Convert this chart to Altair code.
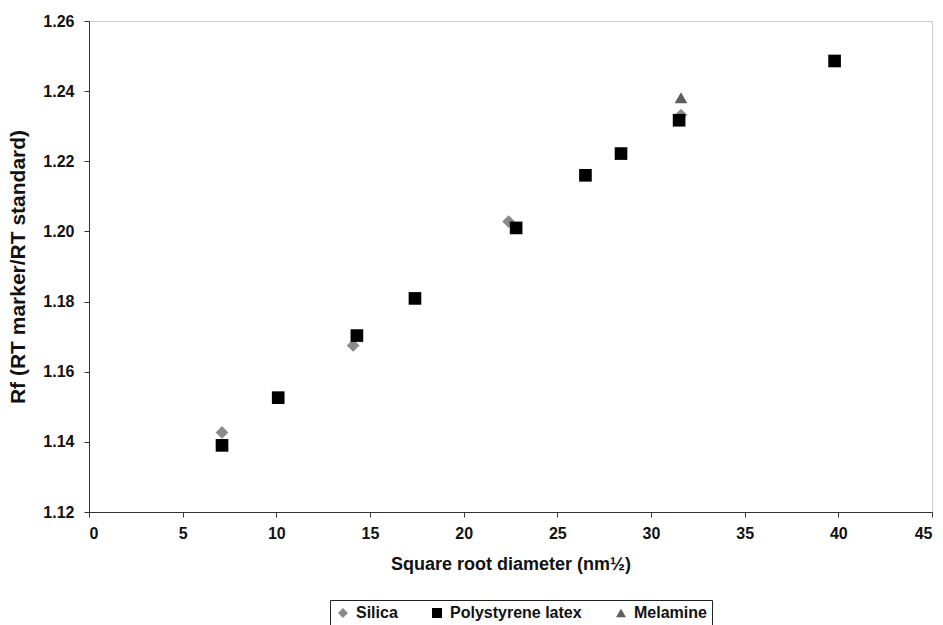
import altair as alt
import pandas as pd

series_names = ["Silica", "Polystyrene latex", "Melamine"]
series_colors = ["#8a8a8a", "#000000", "#5e5e5e"]
series_shapes = ["diamond", "square", "triangle-up"]

silica_x = [7.1, 14.1, 22.4, 31.6]
silica_y = [1.1427, 1.1675, 1.2028, 1.2332]

ps_x = [7.1, 10.1, 14.3, 17.4, 22.8, 26.5, 28.4, 31.5, 39.8]
ps_y = [1.139, 1.1526, 1.1703, 1.1809, 1.2010, 1.2160, 1.2222, 1.2317, 1.2486]

mel_x = [31.6]
mel_y = [1.2381]

x_ticks = [0, 5, 10, 15, 20, 25, 30, 35, 40, 45]
y_ticks = [1.12, 1.14, 1.16, 1.18, 1.20, 1.22, 1.24, 1.26]

rows = []
for name, xs, ys in [("Silica", silica_x, silica_y),
                     ("Polystyrene latex", ps_x, ps_y),
                     ("Melamine", mel_x, mel_y)]:
    for a, b in zip(xs, ys):
        rows.append({"series": name, "x": a, "y": b})
df = pd.DataFrame(rows)

FONT = "Liberation Sans"

chart = alt.Chart(df).mark_point(filled=True, opacity=1, size=160).encode(
    x=alt.X("x:Q", scale=alt.Scale(domain=[0, 45], nice=False),
            axis=alt.Axis(values=x_ticks, title="Square root diameter (nm½)",
                          grid=False, format="d", labelPadding=8,
                          titleFontSize=18, titlePadding=14)),
    y=alt.Y("y:Q", scale=alt.Scale(domain=[1.12, 1.26], nice=False, zero=False),
            axis=alt.Axis(values=y_ticks, title="Rf (RT marker/RT standard)",
                          grid=False, format=".2f", labelPadding=10,
                          titleFontSize=21, titlePadding=14)),
    color=alt.Color("series:N", title=None,
                    scale=alt.Scale(domain=series_names, range=series_colors),
                    legend=alt.Legend(orient="none", direction="horizontal",
                                      legendX=241, legendY=579,
                                      strokeColor="#222222", padding=5,
                                      labelFont=FONT, labelFontSize=16,
                                      labelFontWeight="bold", labelColor="#111111",
                                      symbolSize=100, columnPadding=31,
                                      labelOffset=5)),
    shape=alt.Shape("series:N", title=None,
                    scale=alt.Scale(domain=series_names, range=series_shapes)),
).properties(
    width=843, height=491,
    autosize=alt.AutoSizeParams(type="none"),
    padding={"left": 89, "top": 21, "right": 11, "bottom": 113},
).configure_view(
    stroke="#cfcfcf", strokeWidth=1
).configure_axis(
    labelFont=FONT, labelFontSize=16, labelFontWeight="bold", labelColor="#111111",
    titleFont=FONT, titleFontWeight="bold", titleColor="#111111",
    domainColor="#333333", tickColor="#333333", tickSize=5,
)

chart.save("out.html", embed_options={"renderer": "svg", "actions": False})
